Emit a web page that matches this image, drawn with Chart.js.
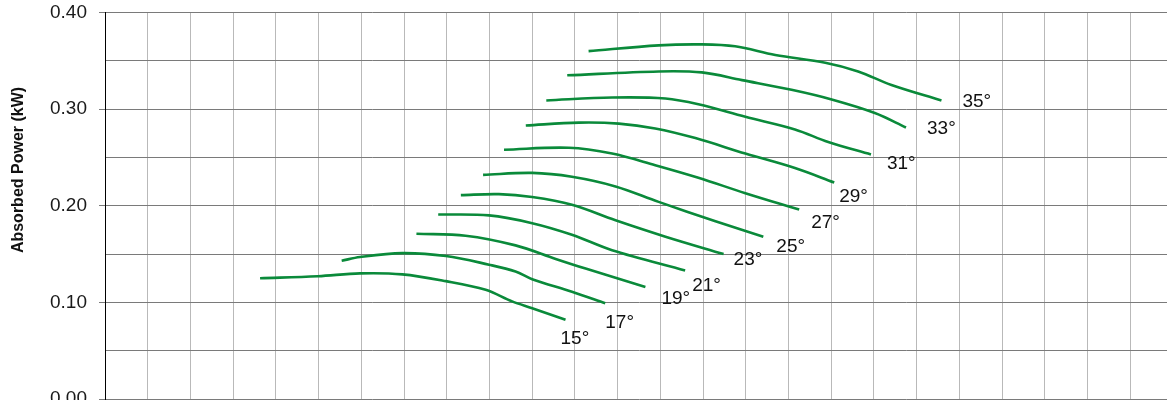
<!DOCTYPE html>
<html>
<head>
<meta charset="utf-8">
<title>Absorbed Power</title>
<script src="https://cdn.jsdelivr.net/npm/chart.js@4.4.1/dist/chart.umd.min.js"></script>
<style>
  html, body { margin: 0; padding: 0; background: #fff; overflow: hidden; }
  #wrap { position: relative; width: 1185px; height: 420px; }
</style>
</head>
<body>
<div id="wrap"><canvas id="myChart"></canvas></div>
<script>
'use strict';

const yTitle = 'Absorbed Power (kW)';
const curveNames = ['15°', '17°', '19°', '21°', '23°', '25°', '27°', '29°', '31°', '33°', '35°'];

// one x/y pair of arrays per curve (x in grid units, y in kW)
const x15 = [3.63, 4.98, 5.97, 6.96, 7.98, 8.91, 9.53, 10.0, 10.78];
const y15 = [0.125, 0.127, 0.130, 0.129, 0.122, 0.113, 0.101, 0.094, 0.082];
const x17 = [5.54, 5.97, 6.96, 7.98, 8.99, 9.61, 10.0, 10.93, 11.71];
const y17 = [0.143, 0.147, 0.151, 0.148, 0.139, 0.132, 0.124, 0.111, 0.099];
const x19 = [7.29, 8.44, 9.61, 10.55, 11.25, 12.65];
const y19 = [0.171, 0.169, 0.159, 0.145, 0.135, 0.116];
const x21 = [7.80, 8.99, 10.0, 10.93, 11.87, 13.58];
const y21 = [0.191, 0.190, 0.182, 0.170, 0.154, 0.133];
const x23 = [8.33, 9.22, 10.0, 10.93, 11.95, 13.12, 14.48];
const y23 = [0.211, 0.212, 0.209, 0.201, 0.185, 0.168, 0.150];
const x25 = [8.85, 10.0, 10.93, 11.95, 12.96, 14.29, 15.41];
const y25 = [0.232, 0.234, 0.230, 0.220, 0.204, 0.184, 0.168];
const x27 = [9.34, 10.86, 11.87, 12.88, 13.89, 14.99, 16.25];
const y27 = [0.258, 0.260, 0.254, 0.242, 0.229, 0.213, 0.196];
const x29 = [9.85, 11.09, 12.03, 12.88, 13.82, 14.99, 16.15, 17.07];
const y29 = [0.283, 0.286, 0.285, 0.280, 0.270, 0.254, 0.239, 0.224];
const x31 = [10.33, 11.87, 13.12, 13.89, 14.99, 16.15, 16.93, 17.93];
const y31 = [0.309, 0.312, 0.311, 0.305, 0.292, 0.279, 0.266, 0.253];
const x33 = [10.82, 12.96, 13.97, 14.91, 16.07, 17.01, 18.02, 18.75];
const y33 = [0.335, 0.339, 0.338, 0.330, 0.320, 0.310, 0.296, 0.281];
const x35 = [11.32, 12.96, 13.97, 14.75, 15.69, 16.86, 17.63, 18.41, 19.58];
const y35 = [0.360, 0.366, 0.367, 0.365, 0.356, 0.348, 0.339, 0.325, 0.309];

const curveX = [x15, x17, x19, x21, x23, x25, x27, x29, x31, x33, x35];
const curveY = [y15, y17, y19, y21, y23, y25, y27, y29, y31, y33, y35];

// where each degree label sits relative to the end of its curve (px)
const labelNudge = [[-5, 19], [0, 19], [16, 12], [7, 15], [10, 6], [13, 10], [12, 13], [5, 14], [16, 9], [21, 1], [21, 1]];

const lineGreen = '#0a8a3a';
const fontFamily = '"Liberation Sans", Arial, Helvetica, sans-serif';

function isMajor(v) {
  return Math.round(v * 100) % 10 === 0;
}

let datasets = [];
for (let i = 0; i < curveNames.length; i++) {
  const pts = curveX[i].map((x, j) => ({ x: x, y: curveY[i][j] }));
  datasets.push({
    label: curveNames[i],
    data: pts,
    showLine: true,
    borderColor: lineGreen,
    borderWidth: 2.6,
    pointRadius: 0,
    tension: 0.35,
    fill: false
  });
}

const sideTitle = {
  id: 'sideTitle',
  afterDraw(chart) {
    const ctx = chart.ctx;
    ctx.save();
    ctx.translate(19, 170);
    ctx.rotate(-Math.PI / 2);
    ctx.font = 'bold 16px ' + fontFamily;
    ctx.fillStyle = '#111';
    ctx.textAlign = 'center';
    ctx.textBaseline = 'middle';
    ctx.fillText(yTitle, 0, 0);
    ctx.restore();
  }
};

const curveLabels = {
  id: 'curveLabels',
  afterDatasetsDraw(chart) {
    const ctx = chart.ctx;
    ctx.save();
    ctx.font = '19px ' + fontFamily;
    ctx.fillStyle = '#111';
    ctx.textAlign = 'left';
    ctx.textBaseline = 'middle';
    chart.data.datasets.forEach((ds, i) => {
      const meta = chart.getDatasetMeta(i);
      const last = meta.data[meta.data.length - 1];
      ctx.fillText(ds.label, last.x + labelNudge[i][0], last.y + labelNudge[i][1]);
    });
    ctx.restore();
  }
};

const config = {
  type: 'scatter',
  data: { datasets: datasets },
  options: {
    responsive: true,
    maintainAspectRatio: false,
    animation: false,
    layout: { padding: { left: 0, top: 12.5, right: 12, bottom: 21 } },
    plugins: {
      legend: { display: false },
      tooltip: { enabled: false }
    },
    scales: {
      x: {
        type: 'linear',
        min: 0,
        max: 25,
        ticks: { display: false, stepSize: 1 },
        grid: { color: '#b9b9b9', lineWidth: 1, drawTicks: false },
        border: { display: false }
      },
      y: {
        min: 0,
        max: 0.4,
        afterFit(scale) {
          scale.width = 105;
          // labels may hang over the plot edges, like the original
          scale.paddingTop = 0;
          scale.paddingBottom = 0;
        },
        ticks: {
          stepSize: 0.05,
          padding: 12,
          color: '#1a1a1a',
          font: { family: fontFamily, size: 19 },
          callback: (v) => (isMajor(v) ? v.toFixed(2) : '')
        },
        grid: {
          color: '#7a7a7a',
          lineWidth: 1,
          tickLength: 6,
          tickColor: (c) => (isMajor(c.tick.value) ? '#7a7a7a' : 'rgba(0,0,0,0)')
        },
        border: { color: '#000', width: 1 }
      }
    }
  },
  plugins: [sideTitle, curveLabels]
};

let canvasChart = document.getElementById('myChart');
const myChart = new Chart(canvasChart, config);
</script>
</body>
</html>
